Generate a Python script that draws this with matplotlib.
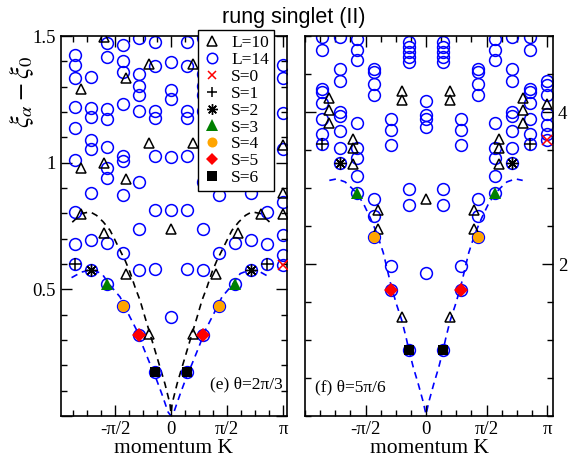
import numpy as np
import matplotlib
matplotlib.use('Agg')
import matplotlib.pyplot as plt
from matplotlib.lines import Line2D
from matplotlib.ticker import MultipleLocator, FixedLocator, FuncFormatter

plt.rcParams['font.family'] = ['Liberation Serif', 'DejaVu Serif']
plt.rcParams['mathtext.fontset'] = 'stix'

# momentum index k of each column, K = 2*pi*k/L (spectrum is symmetric in K)
L14_k = [-6, -5, -4, -3, -2, -1, 0, 7]
L10_k = [-4, -3, -2, -1, 0, 5]
S_k = [7, 6, 5, 4, 3, 2, 1]          # column of the S=0..6 lowest levels (L=14)

# ---- panel (e) theta = 2pi/3 ----
e_L14 = [
    [1.425, 1.385, 1.333, 1.221, 1.135, 1.010, 0.806, 0.678, 0.600],
    [1.339, 1.214, 1.179, 1.089, 1.052, 0.881, 0.694, 0.575],
    [1.471, 1.418, 1.211, 1.171, 1.062, 0.977, 0.940, 0.683, 0.522],
    [1.464, 1.402, 1.359, 1.231, 1.026, 1.007, 0.873, 0.643, 0.433],
    [1.491, 1.349, 1.302, 1.267, 1.205, 0.924, 0.740, 0.575, 0.318],
    [1.477, 1.381, 1.204, 1.175, 1.026, 0.815, 0.582, 0.172],
    [1.398, 1.287, 1.250, 1.023, 0.815, 0.390],
    [1.385, 1.334, 1.195, 1.053, 0.844, 0.713, 0.634, 0.598],
]
e_L10 = [
    [1.289, 0.977, 0.799],
    [1.495, 0.999, 0.723],
    [1.333, 0.937, 0.562],
    [1.388, 1.076, 0.322],
    [0.740],
    [1.069, 0.881, 0.799],
]
e_S = [0.598, 0.600, 0.575, 0.522, 0.433, 0.318, 0.172]
e_black_K = [-2.77, -2.51, -2.27, -2.09, -1.90, -1.71, -1.57, -1.43, -1.29,
             -1.15, -1.01, -0.87, -0.73, -0.59, -0.45, -0.31, -0.17, -0.03, 0.0]
e_black_y = [0.765, 0.799, 0.806, 0.792, 0.766, 0.733, 0.694, 0.654, 0.615,
             0.568, 0.509, 0.457, 0.390, 0.325, 0.259, 0.193, 0.127, 0.048, 0.01]
e_blue_K = [-2.79, -2.51, -2.23, -1.94, -1.71, -1.43, -1.20, -0.96, -0.78,
            -0.59, -0.45, -0.26, -0.08, 0.0]
e_blue_y = [0.546, 0.568, 0.578, 0.562, 0.516, 0.470, 0.404, 0.338, 0.272,
            0.206, 0.160, 0.088, 0.015, 0.0]

# ---- panel (f) theta = 5pi/6 ----
f_L14 = [
    [4.99, 4.82, 4.30, 4.26, 4.12, 3.91, 3.71, 3.58],
    [4.99, 4.56, 4.41, 4.00, 3.95, 3.75, 3.52, 3.33],
    [4.96, 4.81, 4.69, 3.85, 3.53, 3.40, 3.16, 2.93],
    [4.57, 4.52, 4.37, 4.22, 2.86, 2.63, 2.36],
    [3.91, 3.76, 3.57, 1.97, 1.66],
    [4.92, 4.85, 4.79, 4.72, 4.66, 2.99, 2.78, 0.87],
    [4.14, 3.96, 3.91, 3.80, 1.88],
    [4.41, 4.36, 4.23, 3.97, 3.83, 3.71, 3.63],
]
f_L10 = [
    [4.18, 4.02, 3.85],
    [3.64, 3.53, 3.31],
    [2.71, 2.46],
    [4.27, 4.16, 1.30],
    [2.86],
    [4.10],
]
f_S = [3.63, 3.58, 3.33, 2.93, 2.36, 1.66, 0.87]
f_blue_K = [-2.51, -2.32, -2.10, -1.93, -1.78, -1.61, -1.45, -1.28, -1.11,
            -0.90, -0.76, -0.63, -0.52, -0.45, -0.33, -0.20, -0.07, 0.0]
f_blue_y = [3.10, 3.12, 3.08, 3.00, 2.92, 2.78, 2.61, 2.41, 2.15,
            1.70, 1.46, 1.26, 1.04, 0.88, 0.64, 0.42, 0.18, 0.02]

S_style = [
    dict(marker='x', color='red', ms=6.5, mew=1.1),
    dict(marker='+', color='black', ms=8.5, mew=1.1),
    dict(marker=(8, 2, 0), color='black', ms=8.5, mew=1.0),
    dict(marker='^', color='green', ms=9, mew=0),
    dict(marker='o', color='orange', ms=8, mew=0),
    dict(marker='D', color='red', ms=7, mew=0),
    dict(marker='s', color='black', ms=7.5, mew=0),
]


def columns(kidx, levels, L):
    xs, ys = [], []
    for k, lev in zip(kidx, levels):
        K = 2 * np.pi * k / L
        for v in lev:
            xs.append(K); ys.append(v)
            if k < 0:
                xs.append(-K); ys.append(v)
    return xs, ys


def mirror(K, y):
    K = np.asarray(K); y = np.asarray(y)
    return np.concatenate([K, -K[::-1]]), np.concatenate([y, y[::-1]])


def draw(ax, L14, L10, S, curves):
    for K, y, c in curves:
        xx, yy = mirror(K, y)
        ax.plot(xx, yy, ls=(0, (4, 3)), color=c, lw=1.2, zorder=1)
    x, y = columns(L14_k, L14, 14)
    ax.plot(x, y, 'o', ls='none', mfc='none', mec='blue', ms=8.5, mew=1.1, zorder=2)
    x, y = columns(L10_k, L10, 10)
    ax.plot(x, y, '^', ls='none', mfc='none', mec='black', ms=7.5, mew=1.1, zorder=3)
    for s, (k, v) in enumerate(zip(S_k, S)):
        K = 2 * np.pi * k / 14
        xs = [K] if s == 0 else [-K, K]
        st = S_style[s]
        ax.plot(xs, [v] * len(xs), ls='none', marker=st['marker'], color=st['color'],
                ms=st['ms'], mew=st['mew'], zorder=4)
    ax.xaxis.set_major_locator(FixedLocator([-np.pi / 2, 0, np.pi / 2, np.pi]))
    ax.set_xticklabels(['-π/2', '0', 'π/2', 'π'])
    ax.xaxis.set_minor_locator(MultipleLocator(np.pi / 8))
    ax.tick_params(which='both', direction='in', top=True, right=True, labelsize=13.5)
    ax.tick_params(which='major', length=8, width=1)
    ax.tick_params(which='minor', length=4, width=1)
    for sp in ax.spines.values():
        sp.set_linewidth(1.2)


fig = plt.figure(figsize=(5.76, 4.61), dpi=100)
ax1 = fig.add_axes([0.1059, 0.0976, 0.3924, 0.8243])
ax2 = fig.add_axes([0.5295, 0.0976, 0.4306, 0.8243])

draw(ax1, e_L14, e_L10, e_S, [(e_black_K, e_black_y, 'black'), (e_blue_K, e_blue_y, 'blue')])
ax1.set_xlim(-3.086, 3.254)
ax1.set_ylim(0, 1.5)
ax1.yaxis.set_major_locator(MultipleLocator(0.5))
ax1.yaxis.set_minor_locator(MultipleLocator(0.1))
ax1.yaxis.set_major_formatter(FuncFormatter(lambda v, p: '' if abs(v) < 1e-9 else '%g' % v))
ax1.text(0.982, 0.082, '(e) θ=2π/3', transform=ax1.transAxes, ha='right', va='center', fontsize=12.5)

draw(ax2, f_L14, f_L10, f_S, [(f_blue_K, f_blue_y, 'blue')])
ax2.set_xlim(-3.1416, 3.297)
ax2.set_ylim(0, 5)
ax2.yaxis.set_major_locator(FixedLocator([2, 4]))
ax2.yaxis.set_minor_locator(MultipleLocator(0.5))
ax2.tick_params(axis='y', labelleft=False, labelright=True)
ax2.text(0.04, 0.074, '(f) θ=5π/6', transform=ax2.transAxes, ha='left', va='center', fontsize=12.5)

handles = [
    Line2D([], [], ls='none', marker='^', mfc='none', mec='black', ms=7, mew=1.1),
    Line2D([], [], ls='none', marker='o', mfc='none', mec='blue', ms=7.5, mew=1.1),
]
for st in S_style:
    handles.append(Line2D([], [], ls='none', marker=st['marker'], color=st['color'],
                          ms=st['ms'] * 0.9, mew=st['mew']))
labels = ['L=10', 'L=14'] + ['S=%d' % i for i in range(7)]
leg = ax1.legend(handles, labels, loc='upper left', bbox_to_anchor=(0.606, 1.016),
                 borderaxespad=0, fontsize=12.5, labelspacing=0.04, handlelength=1.0,
                 handletextpad=0.6, borderpad=0.3, fancybox=False, framealpha=1,
                 edgecolor='black')
leg.get_frame().set_linewidth(1.0)
leg.set_zorder(10)

fig.text(0.51, 0.963, 'rung singlet (II)', family=['Liberation Sans', 'DejaVu Sans'],
         fontsize=15.5, ha='center', va='center')
fig.text(0.038, 0.80, r'$\xi_\alpha - \xi_0$', rotation=90, fontsize=19, ha='center', va='center')
fig.text(173 / 576, 1 - 448 / 461, 'momentum K', fontsize=15.5, ha='center', va='center')
fig.text(429 / 576, 1 - 448 / 461, 'momentum K', fontsize=15.5, ha='center', va='center')

fig.savefig('out.png', dpi=100)
